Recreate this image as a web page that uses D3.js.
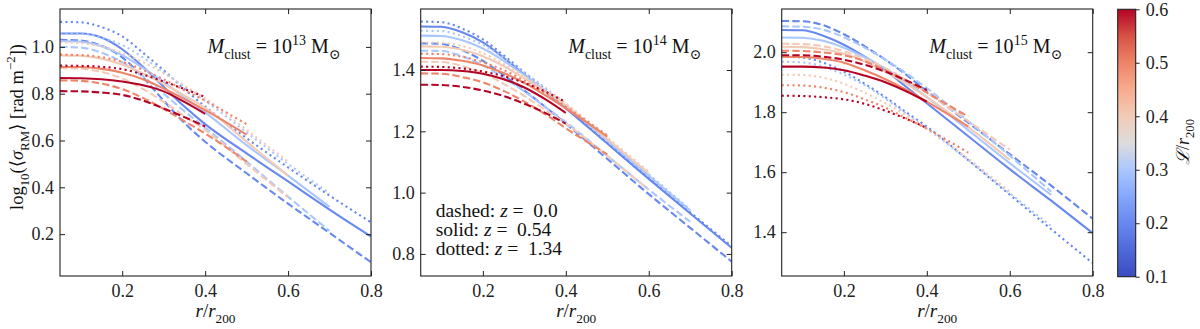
<!DOCTYPE html>
<html><head><meta charset="utf-8">
<script src="https://cdn.jsdelivr.net/npm/d3@7"></script>
<style>body{margin:0;background:#fff}svg{display:block}text{white-space:pre}</style>
</head><body>
<svg id="chart" width="1200" height="329"></svg>
<script>
// ---------------- data ----------------
const rGrid = [0.05,0.1,0.15,0.2,0.25,0.3,0.35,0.4,0.5,0.6,0.7,0.8];
const lengthScales = [0.2,0.3,0.4,0.5,0.6];      // L / r200 (colour)
const lineStyles = ["dashed","solid","dotted"];
const redshiftLabels = ["0.0","0.54","1.34"];
const massExponents = ["13","14","15"];
const xTicks = [0.2,0.4,0.6,0.8];
const yTicks13 = [0.2,0.4,0.6,0.8,1.0];
const yTicks14 = [0.8,1.0,1.2,1.4];
const yTicks15 = [1.4,1.6,1.8,2.0];
const yDomain13 = [0.021,1.162];
const yDomain14 = [0.728,1.599];
const yDomain15 = [1.254,2.144];
const cbarTicks = [0.1,0.2,0.3,0.4,0.5,0.6];
const coolwarmStops = ["#3b4cc0","#4f69d9","#6788ee","#84a7fc","#aac7fd","#dddcdc","#f2cbb7","#f7ac8e","#ee8468","#d65244","#b40426"];

// M = 1e13
const m13Dashed = [
 [1.03,1.027,1.005,0.955,0.87,0.77,0.675,0.595,0.46,0.33,0.205,0.08],
 [1.0,0.997,0.975,0.935,0.875,0.80,0.725,0.655,0.51,0.36,0.214],
 [0.91,0.907,0.893,0.865,0.82,0.765,0.705,0.645,0.50,0.357],
 [0.857,0.855,0.843,0.82,0.782,0.735,0.683,0.63,0.51],
 [0.811,0.81,0.805,0.795,0.771,0.737,0.70,0.66]];
const m13Solid = [
 [1.057,1.057,1.04,0.99,0.915,0.83,0.745,0.67,0.545,0.425,0.305,0.19],
 [1.025,1.022,1.003,0.965,0.91,0.85,0.785,0.72,0.58,0.45,0.317],
 [0.964,0.962,0.95,0.925,0.887,0.842,0.792,0.74,0.595,0.45],
 [0.914,0.914,0.906,0.89,0.862,0.822,0.777,0.73,0.625],
 [0.867,0.866,0.862,0.852,0.836,0.81,0.765,0.714]];
const m13Dotted = [
 [1.107,1.105,1.085,1.045,0.975,0.9,0.82,0.745,0.61,0.485,0.365,0.25],
 [1.06,1.058,1.04,1.008,0.955,0.892,0.83,0.77,0.635,0.5,0.375],
 [1.02,1.016,1.002,0.975,0.935,0.887,0.833,0.78,0.645,0.51],
 [0.967,0.965,0.956,0.936,0.902,0.861,0.815,0.77,0.67],
 [0.92,0.919,0.915,0.905,0.882,0.852,0.82,0.786]];
// M = 1e14
const m14Dashed = [
 [1.487,1.485,1.465,1.43,1.383,1.333,1.28,1.225,1.11,0.995,0.885,0.775],
 [1.463,1.462,1.445,1.415,1.375,1.33,1.28,1.23,1.12,1.01,0.905],
 [1.427,1.426,1.413,1.39,1.355,1.315,1.27,1.225,1.12,1.009],
 [1.389,1.388,1.377,1.36,1.332,1.297,1.256,1.21,1.125],
 [1.352,1.351,1.345,1.333,1.315,1.29,1.26,1.225]];
const m14Solid = [
 [1.542,1.541,1.523,1.49,1.44,1.385,1.33,1.275,1.16,1.045,0.932,0.82],
 [1.512,1.511,1.497,1.47,1.43,1.383,1.333,1.283,1.17,1.055,0.942],
 [1.477,1.476,1.466,1.445,1.413,1.373,1.33,1.285,1.175,1.063],
 [1.439,1.438,1.43,1.415,1.39,1.358,1.318,1.275,1.183],
 [1.40,1.40,1.397,1.388,1.37,1.343,1.305,1.26]];
const m14Dotted = [
 [1.558,1.556,1.535,1.5,1.448,1.392,1.337,1.28,1.165,1.05,0.936,0.825],
 [1.528,1.527,1.51,1.482,1.44,1.392,1.342,1.29,1.175,1.06,0.945],
 [1.49,1.489,1.478,1.455,1.42,1.38,1.335,1.29,1.18,1.068],
 [1.453,1.452,1.443,1.425,1.4,1.365,1.325,1.28,1.187],
 [1.411,1.41,1.405,1.395,1.38,1.358,1.33,1.295]];
// M = 1e15
const m15Dashed = [
 [2.104,2.103,2.09,2.06,2.02,1.975,1.925,1.87,1.765,1.66,1.555,1.445],
 [2.086,2.085,2.075,2.05,2.015,1.975,1.93,1.88,1.77,1.655,1.535],
 [2.028,2.027,2.02,2.003,1.978,1.947,1.908,1.865,1.77,1.675],
 [2.005,2.004,1.999,1.99,1.97,1.94,1.905,1.865,1.785],
 [1.99,1.99,1.985,1.975,1.958,1.935,1.906,1.874]];
const m15Solid = [
 [2.074,2.073,2.055,2.025,1.985,1.94,1.885,1.83,1.72,1.61,1.505,1.397],
 [2.049,2.048,2.038,2.015,1.983,1.945,1.90,1.85,1.74,1.63,1.524],
 [2.018,2.017,2.01,1.995,1.97,1.935,1.895,1.85,1.75,1.641],
 [1.985,1.984,1.978,1.965,1.94,1.91,1.875,1.835,1.752],
 [1.952,1.952,1.949,1.94,1.922,1.90,1.87,1.835]];
const m15Dotted = [
 [1.985,1.982,1.965,1.935,1.895,1.85,1.80,1.752,1.64,1.525,1.41,1.297],
 [1.968,1.966,1.952,1.925,1.89,1.845,1.795,1.745,1.64,1.53,1.42],
 [1.925,1.924,1.915,1.895,1.865,1.83,1.79,1.745,1.645,1.535],
 [1.89,1.889,1.882,1.867,1.843,1.815,1.78,1.745,1.665],
 [1.855,1.854,1.85,1.843,1.828,1.805,1.778,1.747]];

const panels = [
  {exp: massExponents[0], dom: yDomain13, ticks: yTicks13, series: [m13Dashed, m13Solid, m13Dotted]},
  {exp: massExponents[1], dom: yDomain14, ticks: yTicks14, series: [m14Dashed, m14Solid, m14Dotted]},
  {exp: massExponents[2], dom: yDomain15, ticks: yTicks15, series: [m15Dashed, m15Solid, m15Dotted]}
];

// ---------------- layout ----------------
const FS = 18;
const FONT = "'Liberation Serif','DejaVu Serif',serif";
const panelLeft = [60, 420.7, 781.7];
const panelW = 311, plotTop = 9, plotBottom = 276;
const dashes = {dashed: "7.4,3.2", solid: null, dotted: "2.1,3.3"};

const svg = d3.select("#chart").attr("font-family", FONT);

const cmap = d3.scaleLinear()
  .domain(d3.range(coolwarmStops.length).map(i => 0.1 + 0.5 * i / (coolwarmStops.length - 1)))
  .range(coolwarmStops).interpolate(d3.interpolateRgb);

function rich(parent, parts, attrs, fs = FS) {
  const t = parent.append("text").attr("font-size", fs);
  for (const k in attrs) t.attr(k, attrs[k]);
  let shift = 0;
  parts.forEach(p => {
    const target = p.sub ? 0.3 * fs : p.sup ? -0.42 * fs : 0;
    const ts = t.append("tspan").text(p.t);
    if (target !== shift) ts.attr("dy", target - shift);
    shift = target;
    if (p.sub || p.sup) ts.attr("font-size", fs * 0.7);
    if (p.it) ts.attr("font-style", "italic");
  });
  return t;
}

const x = d3.scaleLinear().domain([0.05, 0.8]);

panels.forEach((p, pi) => {
  const L = panelLeft[pi];
  const xs = x.copy().range([L, L + panelW]);
  const ys = d3.scaleLinear().domain(p.dom).range([plotBottom, plotTop]);
  const g = svg.append("g");
  const clipId = "clip" + pi;
  g.append("clipPath").attr("id", clipId).append("rect")
    .attr("x", L).attr("y", plotTop).attr("width", panelW).attr("height", plotBottom - plotTop);
  const lines = g.append("g").attr("clip-path", `url(#${clipId})`);
  const lineGen = d3.line().x(d => xs(d[0])).y(d => ys(d[1])).curve(d3.curveMonotoneX);
  lengthScales.forEach((ls, li) => {
    p.series.forEach((ser, si) => {
      const vals = ser[li];
      const pts = vals.map((v, i) => [rGrid[i], v]);
      lines.append("path").attr("d", lineGen(pts))
        .attr("fill", "none").attr("stroke", cmap(ls)).attr("stroke-width", 2.1)
        .attr("stroke-dasharray", dashes[lineStyles[si]]);
    });
  });
  const styleAxis = sel => {
    sel.select(".domain").remove();
    sel.selectAll(".tick line").attr("stroke", "#222").attr("stroke-width", 1);
    sel.selectAll("text").attr("font-size", FS).attr("font-family", FONT).attr("fill", "#222");
  };
  g.append("g").attr("transform", `translate(0,${plotBottom})`)
    .call(d3.axisBottom(xs).tickValues(xTicks).tickFormat(d3.format(".1f")).tickSizeInner(-5).tickSizeOuter(0).tickPadding(8))
    .call(styleAxis);
  g.append("g").attr("transform", `translate(0,${plotTop})`)
    .call(d3.axisTop(xs).tickValues(xTicks).tickFormat("").tickSizeInner(-5).tickSizeOuter(0))
    .call(styleAxis);
  g.append("g").attr("transform", `translate(${L},0)`)
    .call(d3.axisLeft(ys).tickValues(p.ticks).tickFormat(d3.format(".1f")).tickSizeInner(-5).tickSizeOuter(0).tickPadding(6))
    .call(styleAxis);
  g.append("g").attr("transform", `translate(${L + panelW},0)`)
    .call(d3.axisRight(ys).tickValues(p.ticks).tickFormat("").tickSizeInner(-5).tickSizeOuter(0))
    .call(styleAxis);
  g.append("rect").attr("x", L).attr("y", plotTop).attr("width", panelW).attr("height", plotBottom - plotTop)
    .attr("fill", "none").attr("stroke", "#222").attr("stroke-width", 1.1);

  rich(g, [{t: "M", it: 1}, {t: "clust", sub: 1}, {t: " = 10"}, {t: p.exp, sup: 1}, {t: " M"}, {t: "⊙", sub: 1}],
    {x: L + panelW - 97, y: 53, "text-anchor": "middle", fill: "#111"}, 20);
  rich(g, [{t: "r", it: 1}, {t: "/"}, {t: "r", it: 1}, {t: "200", sub: 1}],
    {x: L + panelW / 2, y: 317, "text-anchor": "middle", fill: "#111"}, 19);
});

const legX = panelLeft[1] + 15;
lineStyles.forEach((s, i) => {
  rich(svg, [{t: s + ": "}, {t: "z", it: 1}, {t: " =  " + redshiftLabels[i]}],
    {x: legX, y: 216.5 + i * 19.3, fill: "#111"}, 19.5);
});

rich(svg, [{t: "log"}, {t: "10", sub: 1}, {t: "(⟨"}, {t: "σ", it: 1}, {t: "RM", sub: 1}, {t: "⟩ [rad m"}, {t: "−2", sup: 1}, {t: "])"}],
  {transform: "translate(23,127) rotate(-90)", "text-anchor": "middle", fill: "#111"}, 18.5);

const cbX = 1117.7, cbW = 18, cbTop = 9.3, cbBot = 276.7;
const defs = svg.append("defs");
const grad = defs.append("linearGradient").attr("id", "cbgrad")
  .attr("x1", 0).attr("y1", 1).attr("x2", 0).attr("y2", 0);
coolwarmStops.forEach((c, i) => grad.append("stop").attr("offset", i / (coolwarmStops.length - 1)).attr("stop-color", c));
svg.append("rect").attr("x", cbX).attr("y", cbTop).attr("width", cbW).attr("height", cbBot - cbTop)
  .attr("fill", "url(#cbgrad)").attr("stroke", "#222").attr("stroke-width", 1.1);
const cs = d3.scaleLinear().domain([0.1, 0.6]).range([cbBot, cbTop]);
svg.append("g").attr("transform", `translate(${cbX + cbW},0)`)
  .call(d3.axisRight(cs).tickValues(cbarTicks).tickFormat(d3.format(".1f")).tickSizeInner(4).tickSizeOuter(0).tickPadding(6))
  .call(sel => {
    sel.select(".domain").remove();
    sel.selectAll(".tick line").attr("stroke", "#222");
    sel.selectAll("text").attr("font-size", FS).attr("font-family", FONT).attr("fill", "#222");
  });
rich(svg, [{t: "ℒ", it: 1}, {t: "/"}, {t: "r", it: 1}, {t: "200", sub: 1}],
  {transform: "translate(1189,142) rotate(-90)", "text-anchor": "middle", fill: "#111"}, 18);
</script>
</body></html>
